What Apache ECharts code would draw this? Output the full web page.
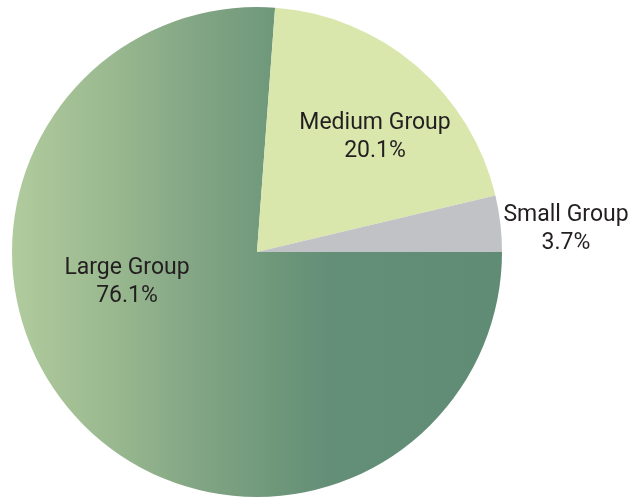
<!DOCTYPE html>
<html><head><meta charset="utf-8">
<script src="https://cdn.jsdelivr.net/npm/echarts@6/dist/echarts.min.js"></script>
<style>html,body{margin:0;padding:0;background:#fff}#c{width:633px;height:498px}</style>
</head><body><div id="c"></div>
<script>
const categories = ['Large Group', 'Medium Group', 'Small Group'];
const values = [76.1, 20.1, 3.7];
const labelPos = [[127, 282], [375, 137.5], [566, 229]];

const colors = [
  {type:'linear', x:0, y:0, x2:1, y2:0, colorStops:[
    {offset:0, color:'#b1cb9d'}, {offset:0.21, color:'#99b88f'}, {offset:0.37, color:'#83a685'},
    {offset:0.54, color:'#6e977a'}, {offset:0.66, color:'#638e77'}, {offset:1, color:'#608c75'}]},
  '#d9e7ac',
  '#c1c2c5'
];

const chart = echarts.init(document.getElementById('c'));
chart.setOption({
  animation:false,
  series:[{
    type:'pie',
    center:[257,252],
    radius:245,
    startAngle:0,
    clockwise:true,
    avoidLabelOverlap:false,
    labelLine:{show:false},
    label:{
      show:true,
      position:'inside',
      formatter: p => p.name + '\n' + p.value.toFixed(1) + '%',
      fontFamily:'Roboto, sans-serif',
      fontSize:23,
      lineHeight:28,
      color:'#231f20',
      align:'center'
    },
    labelLayout: p => ({x: labelPos[p.dataIndex][0], y: labelPos[p.dataIndex][1], align:'center', verticalAlign:'middle'}),
    emphasis:{disabled:true},
    data: categories.map((n,i)=>({name:n, value:values[i], itemStyle:{color:colors[i], borderWidth:0}}))
  }]
});
</script></body></html>
